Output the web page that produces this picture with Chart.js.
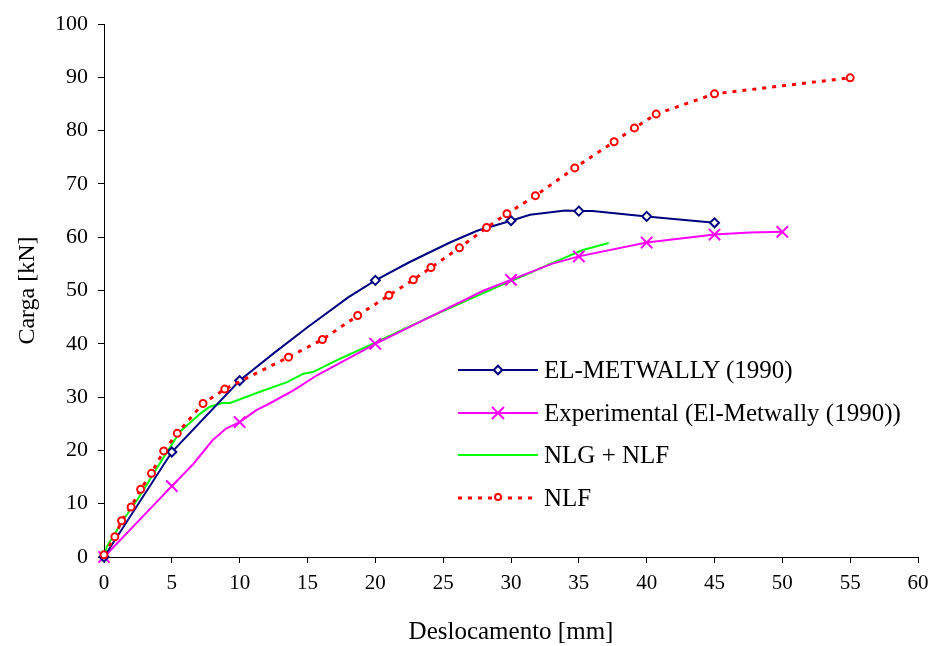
<!DOCTYPE html>
<html>
<head>
<meta charset="utf-8">
<script src="https://cdn.jsdelivr.net/npm/chart.js@4.4.0/dist/chart.umd.min.js"></script>
<style>
    body { margin: 0; background: #fff; }
    #wrap { position: relative; width: 931px; height: 646px; }
    #legend { position: absolute; left: 458px; top: 349px; font-family: "Liberation Serif", serif; font-size: 25px; color: #000; }
    .row { display: flex; align-items: center; height: 42.5px; }
    .row svg { margin-right: 6px; }
</style>
</head>
<body>
<div id="wrap">
    <canvas id="chart" width="931" height="646"></canvas>
    <div id="legend"></div>
</div>
<script>
// Series names
var seriesNames = ["EL-METWALLY (1990)", "Experimental (El-Metwally (1990))", "NLG + NLF", "NLF"];

// EL-METWALLY (1990)
var metwallyX = [0, 5, 10, 12.5, 15, 18, 20, 22.5, 25.5, 27.5, 30, 31.4, 34, 35, 36, 40, 45];
var metwallyY = [0, 19.7, 33.1, 38.2, 43.1, 48.7, 51.9, 55.3, 59.0, 61.2, 63.1, 64.2, 65.0, 64.9, 64.9, 63.9, 62.7];
var metwallyMarks = [0, 5, 10, 20, 30, 35, 40, 45];

// Experimental (El-Metwally (1990))
var expX = [0, 5, 6.6, 8, 9, 10, 11.2, 12.2, 14, 15.7, 20, 24, 28, 30, 33, 35, 40, 45, 47.6, 50];
var expY = [0, 13.3, 17.5, 21.9, 24.1, 25.3, 27.5, 28.8, 31.3, 34.1, 40, 45, 50, 52, 55, 56.4, 59, 60.5, 60.9, 61];
var expMarks = [0, 5, 10, 20, 30, 35, 40, 45, 50];

// NLG + NLF
var nlgX = [0, 0.2, 1.4, 2.6, 4.1, 5.6, 7.1, 7.8, 8.7, 9.3, 11.5, 13.5, 14.7, 15.4, 17.4, 19.8, 24, 28.9, 30.4, 32.9, 35.3, 37.2];
var nlgY = [0, 1.9, 6.9, 11.3, 17.5, 23.5, 26.9, 28.2, 28.9, 28.9, 31.0, 32.8, 34.4, 34.7, 37.2, 40.0, 45.0, 50.6, 52.2, 55.0, 57.6, 58.9];

// NLF
var nlfX = [0, 0.8, 1.3, 2.0, 2.7, 3.5, 4.4, 5.4, 7.3, 8.9, 13.6, 16.1, 18.7, 21.0, 22.8, 24.1, 26.2, 28.2, 29.7, 31.8, 34.7, 37.6, 39.1, 40.7, 45.0, 55.0];
var nlfY = [0.4, 3.8, 6.8, 9.4, 12.7, 15.7, 19.9, 23.2, 28.8, 31.5, 37.5, 40.8, 45.3, 49.1, 52.0, 54.3, 58.0, 61.8, 64.4, 67.8, 73.0, 77.9, 80.5, 83.1, 86.9, 89.9];

// Axis labels
var xTitle = "Deslocamento [mm]";
var yTitle = "Carga [kN]";

function toPoints(xs, ys) {
    var pts = [];
    for (var i = 0; i < xs.length; i++) {
        pts.push({ x: xs[i], y: ys[i] });
    }
    return pts;
}

function markedRadius(marks, r) {
    return function (ctx) {
        return marks.indexOf(ctx.raw.x) >= 0 ? r : 0;
    };
}

var serif = "'Liberation Serif', 'Times New Roman', serif";

new Chart(document.getElementById("chart"), {
    type: "scatter",
    data: {
        datasets: [
            {
                label: seriesNames[0],
                data: toPoints(metwallyX, metwallyY),
                showLine: true,
                clip: false,
                borderColor: "#000080",
                borderWidth: 2,
                pointStyle: "rectRot",
                pointRadius: markedRadius(metwallyMarks, 4.5),
                pointBackgroundColor: "#fff",
                pointBorderColor: "#000080",
                pointBorderWidth: 2,
                order: 1
            },
            {
                label: seriesNames[1],
                data: toPoints(expX, expY),
                showLine: true,
                clip: false,
                borderColor: "#ff00ff",
                borderWidth: 2,
                pointStyle: "crossRot",
                pointRadius: markedRadius(expMarks, 8),
                pointBorderColor: "#ff00ff",
                pointBorderWidth: 2,
                order: 2
            },
            {
                label: seriesNames[2],
                data: toPoints(nlgX, nlgY),
                showLine: true,
                clip: false,
                borderColor: "#00ff00",
                borderWidth: 2,
                pointRadius: 0,
                order: 3
            },
            {
                label: seriesNames[3],
                data: toPoints(nlfX, nlfY),
                showLine: true,
                clip: false,
                borderColor: "#ff0000",
                borderWidth: 3,
                borderDash: [4, 6],
                pointStyle: "circle",
                pointRadius: 3.5,
                pointBackgroundColor: "#fff",
                pointBorderColor: "#ff0000",
                pointBorderWidth: 2,
                order: 0
            }
        ]
    },
    options: {
        responsive: false,
        animation: false,
        layout: { padding: { left: 0, top: 24, right: 13, bottom: 0 } },
        plugins: {
            legend: { display: false },
            tooltip: { enabled: false }
        },
        scales: {
            x: {
                type: "linear",
                min: 0,
                max: 60,
                afterFit: function (scale) {
                    scale.height = 89;
                    scale.paddingLeft = 0;
                    scale.paddingRight = 0;
                },
                ticks: { stepSize: 5, color: "#000", padding: 8, font: { family: serif, size: 21 } },
                grid: { drawOnChartArea: false, color: "#000", tickLength: 6 },
                border: { color: "#000", width: 1 },
                title: { display: true, text: xTitle, color: "#000", font: { family: serif, size: 25, lineHeight: 1 }, padding: { top: 0, bottom: 1 } }
            },
            y: {
                type: "linear",
                min: 0,
                max: 100,
                afterFit: function (scale) {
                    scale.width = 104;
                    scale.paddingTop = 0;
                    scale.paddingBottom = 0;
                },
                ticks: { stepSize: 10, color: "#000", padding: 10, font: { family: serif, size: 22 } },
                grid: { drawOnChartArea: false, color: "#000", tickLength: 6 },
                border: { color: "#000", width: 1 },
                title: { display: true, text: yTitle, color: "#000", font: { family: serif, size: 24, lineHeight: 1.2 }, padding: { top: 13, bottom: 0 } }
            }
        }
    }
});

// Legend built as HTML, with small svg samples of each series
var legendSamples = [
    '<line x1="0" y1="10" x2="80" y2="10" stroke="#000080" stroke-width="2"/>' +
    '<rect x="37" y="7" width="6" height="6" transform="rotate(45 40 10)" fill="#fff" stroke="#000080" stroke-width="2"/>',
    '<line x1="0" y1="10" x2="80" y2="10" stroke="#ff00ff" stroke-width="2"/>' +
    '<line x1="34" y1="4" x2="46" y2="16" stroke="#ff00ff" stroke-width="2"/>' +
    '<line x1="46" y1="4" x2="34" y2="16" stroke="#ff00ff" stroke-width="2"/>',
    '<line x1="0" y1="10" x2="80" y2="10" stroke="#00ff00" stroke-width="2"/>',
    '<line x1="0" y1="10" x2="80" y2="10" stroke="#ff0000" stroke-width="3" stroke-dasharray="4 6"/>' +
    '<circle cx="40" cy="9" r="3" fill="#fff" stroke="#ff0000" stroke-width="2"/>'
];
var legend = document.getElementById("legend");
for (var i = 0; i < seriesNames.length; i++) {
    var row = document.createElement("div");
    row.className = "row";
    row.innerHTML = '<svg width="80" height="20">' + legendSamples[i] + '</svg>';
    var span = document.createElement("span");
    span.textContent = seriesNames[i];
    row.appendChild(span);
    legend.appendChild(row);
}
</script>
</body>
</html>
